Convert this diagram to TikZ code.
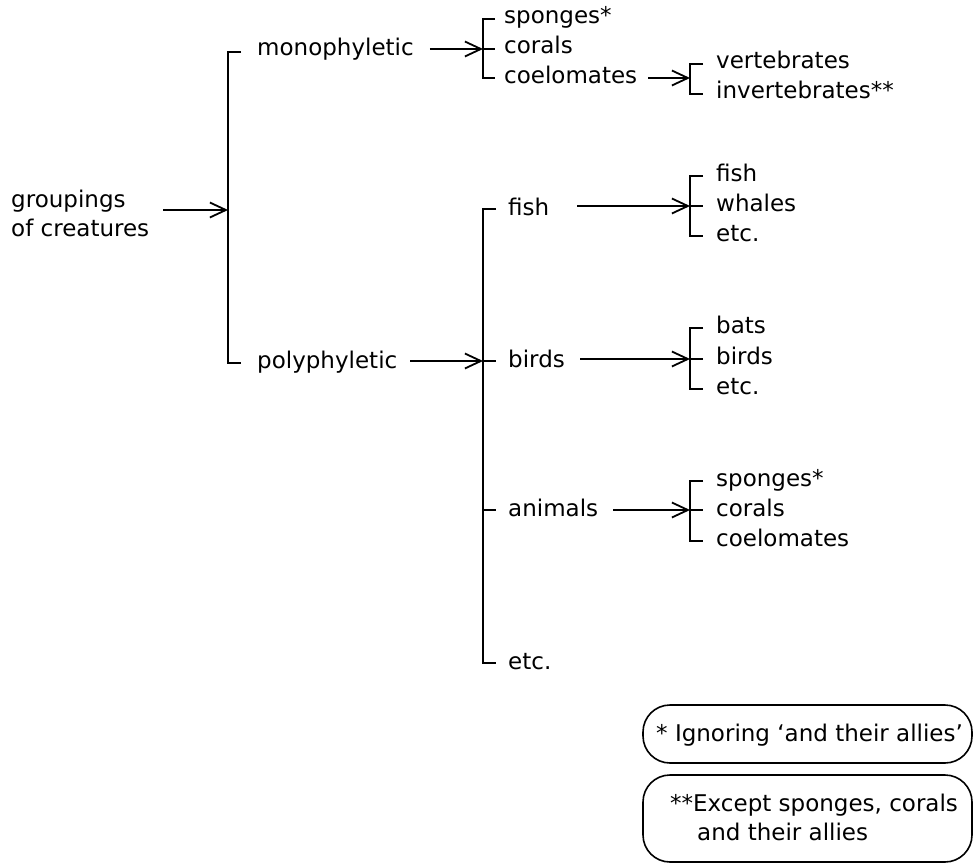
\documentclass[tikz,border=0pt]{standalone}
\usepackage{fontspec}
\setmainfont{DejaVu Sans}
\usetikzlibrary{arrows.meta}
\begin{document}
\begin{tikzpicture}[x=1pt,y=-1pt,
  lbl/.style={anchor=west, inner sep=0pt, font=\fontsize{23}{29}\selectfont, text height=17pt, text depth=5pt},
  brk/.style={line width=1.8pt, line join=miter, line cap=butt},
  arr/.style={line width=1.8pt, -{Straight Barb[length=16pt,width=15pt,line width=1.8pt]}},
  note/.style={draw, line width=1.6pt, rounded corners=27pt}]
\useasboundingbox (0,0) rectangle (974,864);

% level 0
\node (grp) [anchor=west, inner sep=0pt, align=left, font=\fontsize{23}{29}\selectfont] at (11,213) {groupings\\of creatures};
\coordinate (m0) at (228,210);
\draw[brk] (241,52) -- (228,52) -- (228,363) -- (241,363);
\draw[arr] (163,210) -- (m0);

% level 1
\node (mono) [lbl] at (257,50) {monophyletic};
\node (poly) [lbl] at (257,362) {polyphyletic};

% monophyletic branch
\coordinate (b2) at (483,49);
\draw[arr] ([xshift=16pt]mono.east |- b2) -- (b2);
\draw[brk] (495,19) -- (483,19) -- (483,78) -- (495,78);
\draw[brk] (483,49) -- (495,49);
\node (sp1) [lbl] at (504,18) {sponges*};
\node (co1) [lbl] at (504,48) {corals};
\node (ce1) [lbl] at (504,78) {coelomates};

\coordinate (b3) at (690,78);
\draw[arr] ([xshift=11pt]ce1.east |- b3) -- (b3);
\draw[brk] (703,64) -- (690,64) -- (690,94) -- (703,94);
\node (ver) [lbl] at (716,63) {vertebrates};
\node (inv) [lbl] at (716,93) {invertebrates**};

% polyphyletic branch
\coordinate (b4) at (483,361);
\draw[arr] ([xshift=13pt]poly.east |- b4) -- (b4);
\draw[brk] (496,209) -- (483,209) -- (483,663) -- (496,663);
\draw[brk] (483,361) -- (496,361);
\draw[brk] (483,510) -- (496,510);
\node (fi) [lbl] at (508,209) {fish};
\node (bi) [lbl] at (508,361) {birds};
\node (an) [lbl] at (508,510) {animals};
\node (et) [lbl] at (508,663) {etc.};

% fish group
\coordinate (g1) at (690,206);
\draw[arr] ([xshift=28pt]fi.east |- g1) -- (g1);
\draw[brk] (703,176) -- (690,176) -- (690,236) -- (703,236);
\draw[brk] (690,206) -- (703,206);
\node (g1a) [lbl] at (716,175) {fish};
\node (g1b) [lbl] at (716,205) {whales};
\node (g1c) [lbl] at (716,235) {etc.};

% birds group
\coordinate (g2) at (690,359);
\draw[arr] ([xshift=15pt]bi.east |- g2) -- (g2);
\draw[brk] (703,328) -- (690,328) -- (690,389) -- (703,389);
\draw[brk] (690,359) -- (703,359);
\node (g2a) [lbl] at (716,327) {bats};
\node (g2b) [lbl] at (716,358) {birds};
\node (g2c) [lbl] at (716,388) {etc.};

% animals group
\coordinate (g3) at (690,510);
\draw[arr] ([xshift=15pt]an.east |- g3) -- (g3);
\draw[brk] (703,481) -- (690,481) -- (690,541) -- (703,541);
\draw[brk] (690,510) -- (703,510);
\node (g3a) [lbl] at (716,480) {sponges*};
\node (g3b) [lbl] at (716,510) {corals};
\node (g3c) [lbl] at (716,540) {coelomates};

% footnotes
\node (n1) [note, minimum width=329pt, minimum height=58pt, inner sep=0pt] at (807.5,734) {};
\node (n1t) [lbl] at (656,735) {* Ignoring `and their allies'};
\node (n2) [note, minimum width=329pt, minimum height=87pt, inner sep=0pt] at (807.5,818.5) {};
\node (n2a) [lbl] at (670,805) {**Except sponges, corals};
\node (n2b) [lbl] at (697,834) {and their allies};
\end{tikzpicture}
\end{document}
